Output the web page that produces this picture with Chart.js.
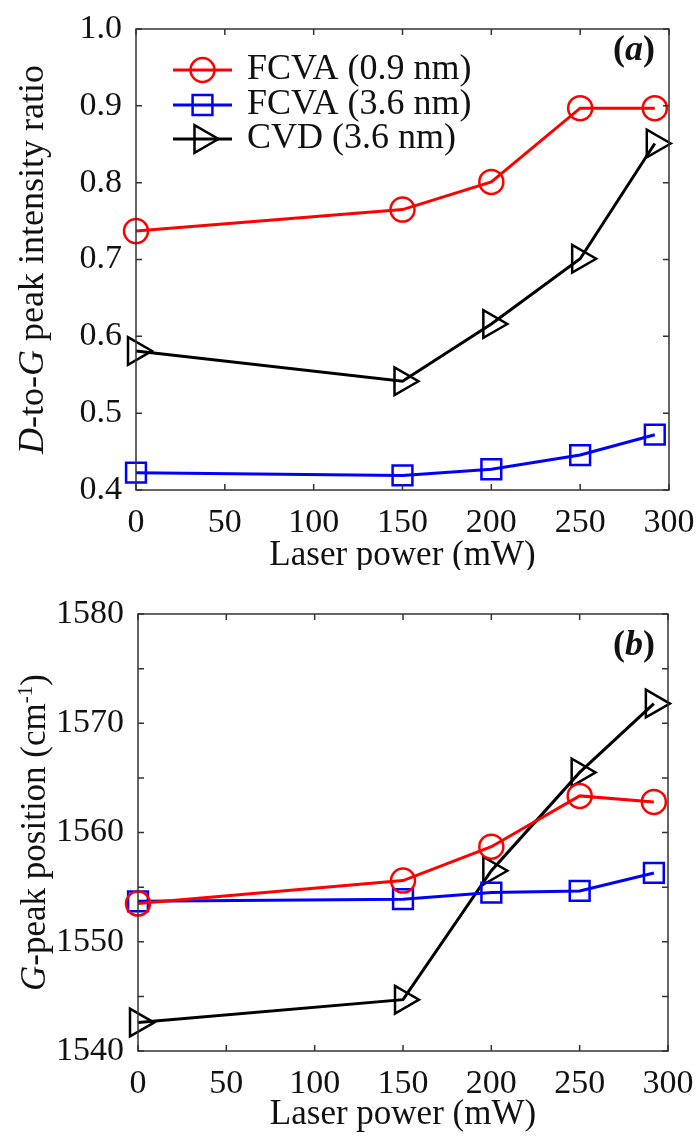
<!DOCTYPE html>
<html>
<head>
<meta charset="utf-8">
<script src="https://cdn.jsdelivr.net/npm/chart.js@4/dist/chart.umd.min.js"></script>
<style>
  body { margin: 0; background: #fff; }
  .box { position: relative; width: 700px; }
</style>
</head>
<body>
<div class="box" style="height:570px"><canvas id="ratioChart"></canvas></div>
<div class="box" style="height:567px"><canvas id="gpeakChart"></canvas></div>
<script>
// laser power (mW)
const laserPower = [0, 150, 200, 250, 292];
const seriesNames = ["FCVA (0.9 nm)", "FCVA (3.6 nm)", "CVD (3.6 nm)"];

// (a) D-to-G peak intensity ratio
const ratioFcva09 = [0.737, 0.765, 0.801, 0.897, 0.897];
const ratioFcva36 = [0.4225, 0.419, 0.427, 0.4455, 0.472];
const ratioCvd36 = [0.581, 0.5415, 0.616, 0.701, 0.851];

// (b) G-peak position (cm-1)
const gFcva09 = [1553.5, 1555.6, 1558.7, 1563.35, 1562.8];
const gFcva36 = [1553.7, 1553.9, 1554.5, 1554.65, 1556.3];
const gCvd36 = [1542.6, 1544.7, 1556.5, 1565.5, 1571.8];

const FONT = "'Liberation Serif', 'Times New Roman', serif";

const styles = [
  { color: "#ff0000", pointStyle: "circle", radius: 12, rotation: 0 },
  { color: "#0000ff", pointStyle: "rect", radius: 14, rotation: 0 },
  { color: "#000000", pointStyle: "triangle", radius: 16, rotation: 90 },
];

function makeDatasets(seriesList) {
  return seriesList.map((vals, i) => ({
    label: seriesNames[i],
    data: laserPower.map((x, k) => ({ x, y: vals[k] })),
    borderColor: styles[i].color,
    backgroundColor: "transparent",
    borderWidth: 3,
    pointStyle: styles[i].pointStyle,
    pointRadius: styles[i].radius,
    pointRotation: styles[i].rotation,
    pointBorderWidth: 2.5,
    pointBorderColor: styles[i].color,
    pointBackgroundColor: "transparent",
    tension: 0,
    clip: false,
  }));
}

// frame, inward ticks, axis titles, panel tag and legend
const decor = {
  id: "decor",
  afterDraw(chart, args, opts) {
    const ctx = chart.ctx;
    const a = chart.chartArea;
    const xs = chart.scales.x, ys = chart.scales.y;
    ctx.save();
    ctx.strokeStyle = "#333";
    ctx.lineWidth = 1.5;
    ctx.strokeRect(a.left, a.top, a.right - a.left, a.bottom - a.top);
    ctx.beginPath();
    const tl = 6;
    xs.ticks.forEach((t) => {
      const px = xs.getPixelForValue(t.value);
      ctx.moveTo(px, a.bottom); ctx.lineTo(px, a.bottom - tl);
      ctx.moveTo(px, a.top); ctx.lineTo(px, a.top + tl);
    });
    ys.ticks.forEach((t) => {
      const py = ys.getPixelForValue(t.value);
      ctx.moveTo(a.left, py); ctx.lineTo(a.left + tl, py);
      ctx.moveTo(a.right, py); ctx.lineTo(a.right - tl, py);
    });
    ctx.stroke();

    ctx.fillStyle = "#111";
    ctx.textBaseline = "middle";

    // x title
    ctx.font = `35px ${FONT}`;
    ctx.textAlign = "center";
    ctx.fillText("Laser power (mW)", (a.left + a.right) / 2, opts.xTitleY);

    // y title with mixed italic / superscript parts
    ctx.save();
    ctx.translate(opts.yTitleX, (a.top + a.bottom) / 2);
    ctx.rotate(-Math.PI / 2);
    const size = opts.yTitleSize;
    const fontOf = (p) => `${p.i ? "italic " : ""}${p.sup ? size * 0.6 : size}px ${FONT}`;
    let total = 0;
    opts.yTitle.forEach((p) => { ctx.font = fontOf(p); total += ctx.measureText(p.t).width; });
    let cx = -total / 2;
    ctx.textAlign = "left";
    opts.yTitle.forEach((p) => {
      ctx.font = fontOf(p);
      ctx.fillText(p.t, cx, p.sup ? -10 : 0);
      cx += ctx.measureText(p.t).width;
    });
    ctx.restore();

    // panel tag "(a)" / "(b)"
    ctx.textAlign = "left";
    const tagParts = [{ t: "(", f: `bold 36px ${FONT}` }, { t: opts.tag, f: `bold italic 36px ${FONT}` }, { t: ")", f: `bold 36px ${FONT}` }];
    let w = 0;
    tagParts.forEach((p) => { ctx.font = p.f; w += ctx.measureText(p.t).width; });
    let tx = opts.tagRight - w;
    tagParts.forEach((p) => { ctx.font = p.f; ctx.fillText(p.t, tx, opts.tagY); tx += ctx.measureText(p.t).width; });

    // legend inside plot
    if (opts.legend) {
      chart.data.datasets.forEach((ds, i) => {
        const y = opts.legend.y[i];
        ctx.strokeStyle = ds.borderColor;
        ctx.lineWidth = 3;
        ctx.beginPath();
        ctx.moveTo(opts.legend.x0, y); ctx.lineTo(opts.legend.x1, y);
        ctx.stroke();
        ctx.lineWidth = 2.5;
        ctx.fillStyle = "transparent";
        Chart.helpers.drawPoint(ctx, {
          pointStyle: ds.pointStyle,
          radius: ds.pointRadius,
          rotation: ds.pointRotation,
          borderWidth: 2.5,
        }, (opts.legend.x0 + opts.legend.x1) / 2, y);
        ctx.fillStyle = "#111";
        ctx.font = `36px ${FONT}`;
        ctx.fillText(ds.label, opts.legend.tx, y);
      });
    }
    ctx.restore();
  },
};

function buildChart(id, datasets, cfg) {
  return new Chart(document.getElementById(id), {
    type: "line",
    data: { datasets },
    options: {
      responsive: true,
      maintainAspectRatio: false,
      animation: false,
      layout: { padding: { left: 0, right: cfg.padRight, top: cfg.padTop, bottom: 0 } },
      plugins: {
        legend: { display: false },
        tooltip: { enabled: false },
        decor: cfg.decor,
      },
      scales: {
        x: {
          type: "linear",
          min: 0,
          max: 300,
          grid: { display: false },
          border: { display: false },
          ticks: { stepSize: 50, padding: 5, color: "#111", font: { family: FONT, size: 34 }, maxRotation: 0 },
          afterFit: (s) => { s.height = cfg.xHeight; },
        },
        y: {
          min: cfg.yMin,
          max: cfg.yMax,
          grid: { display: false },
          border: { display: false },
          ticks: { stepSize: cfg.yStep, padding: 6, color: "#111", font: { family: FONT, size: 34 }, callback: cfg.yLabel },
          afterFit: (s) => { s.width = cfg.yWidth; },
        },
      },
    },
    plugins: [decor],
  });
}

buildChart("ratioChart", makeDatasets([ratioFcva09, ratioFcva36, ratioCvd36]), {
  padRight: 31, padTop: 29, xHeight: 80, yWidth: 136,
  yMin: 0.4, yMax: 1.0, yStep: 0.1,
  yLabel: (v) => Number(v).toFixed(1),
  decor: {
    xTitleY: 556,
    yTitleX: 34,
    yTitleSize: 36,
    yTitle: [{ t: "D", i: true }, { t: "-to-" }, { t: "G", i: true }, { t: " peak intensity ratio" }],
    tag: "a", tagRight: 655, tagY: 51,
    legend: { x0: 173, x1: 232, tx: 247, y: [70, 105, 139] },
  },
});

buildChart("gpeakChart", makeDatasets([gFcva09, gFcva36, gCvd36]), {
  padRight: 32, padTop: 44, xHeight: 86, yWidth: 138,
  yMin: 1540, yMax: 1580, yStep: 5,
  yLabel: (v) => (v % 10 === 0 ? String(v) : ""),
  decor: {
    xTitleY: 545,
    yTitleX: 36,
    yTitleSize: 35,
    yTitle: [{ t: "G", i: true }, { t: "-peak position (cm" }, { t: "-1", sup: true }, { t: ")" }],
    tag: "b", tagRight: 655, tagY: 76,
  },
});
</script>
</body>
</html>
